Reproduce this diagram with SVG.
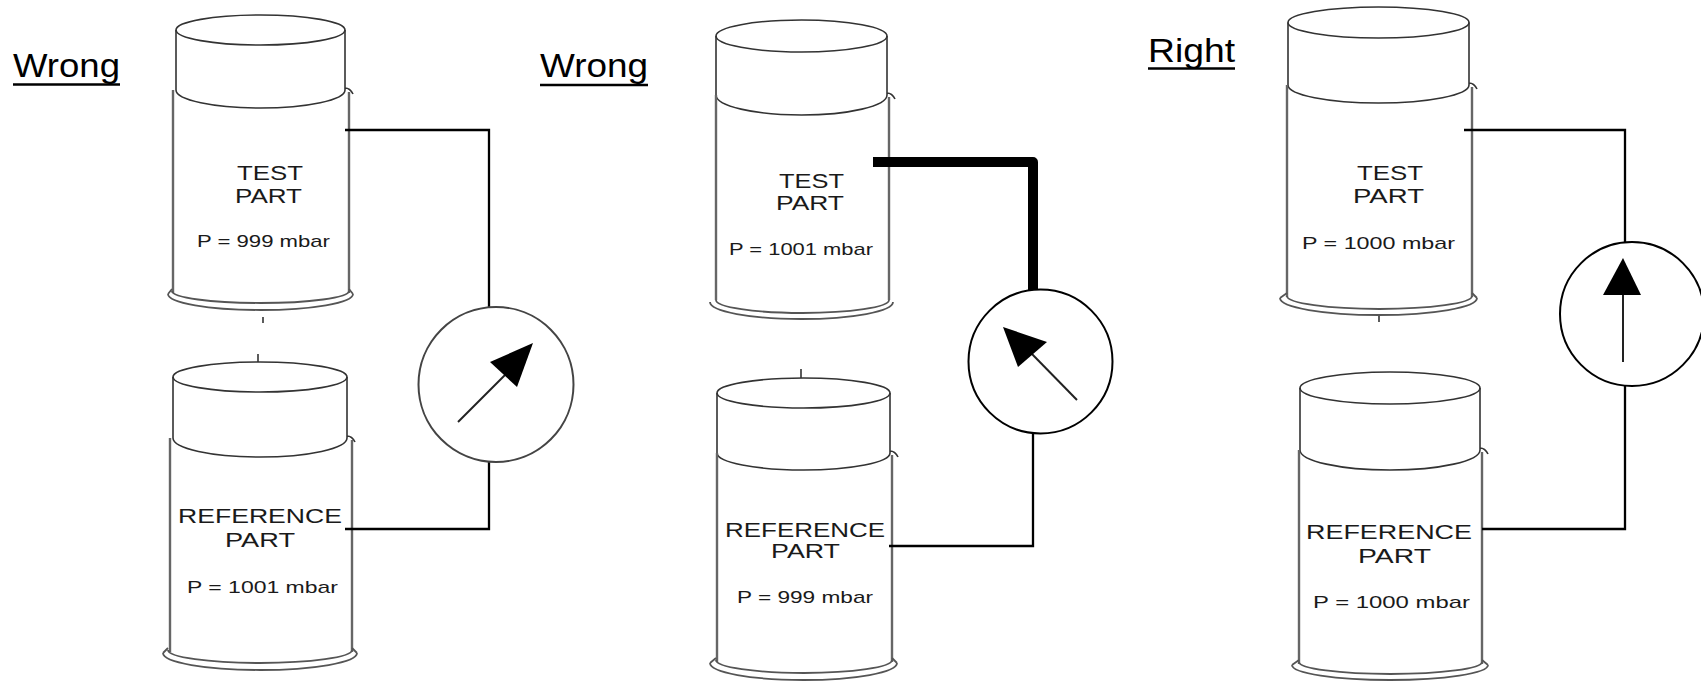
<svg xmlns="http://www.w3.org/2000/svg" width="1701" height="682" viewBox="0 0 1701 682">
  <style>
    .edge { fill: none; stroke: #333; stroke-width: 1.6; }
    .side { fill: none; stroke: #666; stroke-width: 2.4; }
    .rim  { fill: none; stroke: #555; stroke-width: 1.8; }
    .name { font-family: "Liberation Sans", Arial, sans-serif; font-size: 19.5px; fill: #1a1a1a; text-anchor: middle; }
    .pval { font-family: "Liberation Sans", Arial, sans-serif; font-size: 17px; fill: #1a1a1a; text-anchor: middle; }
    .title { font-family: "Liberation Sans", Arial, sans-serif; font-size: 33px; fill: #000; }
    .uline { stroke: #000; stroke-width: 2.6; }
    .conn { fill: none; stroke: #000; stroke-width: 2.3; }
    .heavy { fill: none; stroke: #000; stroke-width: 10; stroke-linejoin: round; }
    .gauge { fill: #fff; stroke: #000; stroke-width: 2; }
    .gauge.soft { stroke: #444; }
    .needle { stroke: #222; stroke-width: 2; }
    .tip { fill: #000; }
  </style>

  <rect width="1701" height="682" fill="#fff"/>

  <!-- headings -->
  <g id="label-wrong-1">
    <text class="title" x="13" y="77" textLength="107" lengthAdjust="spacingAndGlyphs">Wrong</text>
    <line class="uline" x1="13" y1="84.5" x2="120" y2="84.5"/>
  </g>
  <g id="label-wrong-2">
    <text class="title" x="540" y="77" textLength="108" lengthAdjust="spacingAndGlyphs">Wrong</text>
    <line class="uline" x1="540" y1="85" x2="648" y2="85"/>
  </g>
  <g id="label-right">
    <text class="title" x="1148" y="62" textLength="87" lengthAdjust="spacingAndGlyphs">Right</text>
    <line class="uline" x1="1148" y1="68.5" x2="1235" y2="68.5"/>
  </g>

  <!-- case 1: test part -->
  <g id="test-part-1">
    <ellipse class="edge" cx="260.5" cy="30" rx="84.5" ry="15"/>
    <path class="edge" d="M176,30 V90 M345,30 V90 M176,90 A84.5 18 0 0 0 345,90 M345,88 q5,0 8,6"/>
    <path class="side" d="M173,90 V293 M349,92 V293"/>
    <path class="rim" d="M168,294 A92.5 16 0 0 0 353,294 M172,291 A88.5 12 0 0 0 349,291 M168,294 L172,289 M353,294 L349,289"/>
    <line class="edge" x1="263" y1="317" x2="263" y2="323"/>
    <text class="name" x="270" y="180" textLength="66" lengthAdjust="spacingAndGlyphs">TEST</text>
    <text class="name" x="268.5" y="203" textLength="67" lengthAdjust="spacingAndGlyphs">PART</text>
    <text class="pval" x="263.5" y="247" textLength="133" lengthAdjust="spacingAndGlyphs">P = 999 mbar</text>
  </g>

  <!-- case 1: reference part -->
  <g id="reference-part-1">
    <ellipse class="edge" cx="260" cy="377" rx="87" ry="15"/>
    <path class="edge" d="M173,377 V438 M347,377 V438 M173,438 A87 19 0 0 0 347,438 M347,436 q5,0 8,6"/>
    <path class="side" d="M170,438 V652 M352,440 V652"/>
    <path class="rim" d="M163,653 A97 17 0 0 0 357,653 M168,650 A92 13 0 0 0 352,650 M163,653 L168,648 M357,653 L352,648"/>
    <line class="edge" x1="258" y1="354" x2="258" y2="362"/>
    <text class="name" x="260" y="523" textLength="164" lengthAdjust="spacingAndGlyphs">REFERENCE</text>
    <text class="name" x="260" y="547" textLength="70" lengthAdjust="spacingAndGlyphs">PART</text>
    <text class="pval" x="262.5" y="593" textLength="151" lengthAdjust="spacingAndGlyphs">P = 1001 mbar</text>
  </g>

  <!-- case 2: test part -->
  <g id="test-part-2">
    <ellipse class="edge" cx="801.5" cy="36" rx="85.5" ry="16"/>
    <path class="edge" d="M716,36 V95 M887,36 V95 M716,95 A85.5 20 0 0 0 887,95 M887,93 q5,0 8,6"/>
    <path class="side" d="M716,95 V300 M889,97 V300"/>
    <path class="rim" d="M710,302 A91.5 17 0 0 0 893,302 M716,300 A86.5 13 0 0 0 889,300"/>
    <text class="name" x="811.5" y="188" textLength="65" lengthAdjust="spacingAndGlyphs">TEST</text>
    <text class="name" x="810" y="210" textLength="68" lengthAdjust="spacingAndGlyphs">PART</text>
    <text class="pval" x="801" y="255" textLength="144" lengthAdjust="spacingAndGlyphs">P = 1001 mbar</text>
  </g>

  <!-- case 2: reference part -->
  <g id="reference-part-2">
    <ellipse class="edge" cx="803.5" cy="393" rx="86.5" ry="15"/>
    <path class="edge" d="M717,393 V453 M890,393 V453 M717,453 A86.5 17 0 0 0 890,453 M890,451 q5,0 8,6"/>
    <path class="side" d="M717,453 V662 M892,455 V662"/>
    <path class="rim" d="M710,663 A93.5 17 0 0 0 897,663 M716,660 A88 13 0 0 0 892,660 M710,663 L716,658 M897,663 L892,658"/>
    <line class="edge" x1="801" y1="369" x2="801" y2="378"/>
    <text class="name" x="805" y="537" textLength="160" lengthAdjust="spacingAndGlyphs">REFERENCE</text>
    <text class="name" x="805.5" y="558" textLength="69" lengthAdjust="spacingAndGlyphs">PART</text>
    <text class="pval" x="805" y="603" textLength="136" lengthAdjust="spacingAndGlyphs">P = 999 mbar</text>
  </g>

  <!-- case 3: test part -->
  <g id="test-part-3">
    <ellipse class="edge" cx="1378.5" cy="22.5" rx="90.5" ry="15.5"/>
    <path class="edge" d="M1288,22.5 V85 M1469,22.5 V85 M1288,85 A90.5 18 0 0 0 1469,85 M1469,83 q5,0 8,6"/>
    <path class="side" d="M1287,85 V297 M1472,87 V297"/>
    <path class="rim" d="M1280,298 A98.5 17 0 0 0 1477,298 M1287,296 A92.5 13 0 0 0 1472,296 M1280,298 L1287,293 M1477,298 L1472,293"/>
    <line class="edge" x1="1379" y1="316" x2="1379" y2="322"/>
    <text class="name" x="1390" y="180" textLength="66" lengthAdjust="spacingAndGlyphs">TEST</text>
    <text class="name" x="1388.5" y="203" textLength="71" lengthAdjust="spacingAndGlyphs">PART</text>
    <text class="pval" x="1378.5" y="249" textLength="153" lengthAdjust="spacingAndGlyphs">P = 1000 mbar</text>
  </g>

  <!-- case 3: reference part -->
  <g id="reference-part-3">
    <ellipse class="edge" cx="1390" cy="388" rx="90" ry="16"/>
    <path class="edge" d="M1300,388 V450 M1480,388 V450 M1300,450 A90 20 0 0 0 1480,450 M1480,448 q5,0 8,6"/>
    <path class="side" d="M1299,450 V664 M1482,452 V664"/>
    <path class="rim" d="M1292,665 A98 15 0 0 0 1488,665 M1299,662 A91.5 12 0 0 0 1482,662 M1292,665 L1299,660 M1488,665 L1482,660"/>
    <text class="name" x="1389" y="539" textLength="166" lengthAdjust="spacingAndGlyphs">REFERENCE</text>
    <text class="name" x="1394.5" y="563" textLength="73" lengthAdjust="spacingAndGlyphs">PART</text>
    <text class="pval" x="1391.5" y="608" textLength="157" lengthAdjust="spacingAndGlyphs">P = 1000 mbar</text>
  </g>

  <!-- connecting lines from the parts to the gauges -->
  <g id="connectors">
    <path class="conn" d="M345,130 H489 V307"/>
    <path class="conn" d="M345,529 H489 V462"/>
    <path class="heavy" d="M873,162 H1033 V290"/>
    <path class="conn" d="M889,546 H1033 V434"/>
    <path class="conn" d="M1464,130 H1625 V242"/>
    <path class="conn" d="M1482,529 H1625 V386"/>
  </g>

  <!-- differential pressure gauges -->
  <g id="gauge-1">
    <circle class="gauge soft" cx="496" cy="384.5" r="77.5"/>
    <line class="needle" x1="458" y1="422" x2="506" y2="374"/>
    <polygon class="tip" points="533,343 490,362 517,387"/>
  </g>
  <g id="gauge-2">
    <circle class="gauge" cx="1040.5" cy="361.5" r="72"/>
    <line class="needle" x1="1077" y1="400" x2="1031" y2="353"/>
    <polygon class="tip" points="1003,327 1047,342 1018,367"/>
  </g>
  <g id="gauge-3">
    <circle class="gauge" cx="1632" cy="314" r="72"/>
    <line class="needle" x1="1623" y1="362" x2="1623" y2="294"/>
    <polygon class="tip" points="1623,258 1603,295 1641,295"/>
  </g>
</svg>
